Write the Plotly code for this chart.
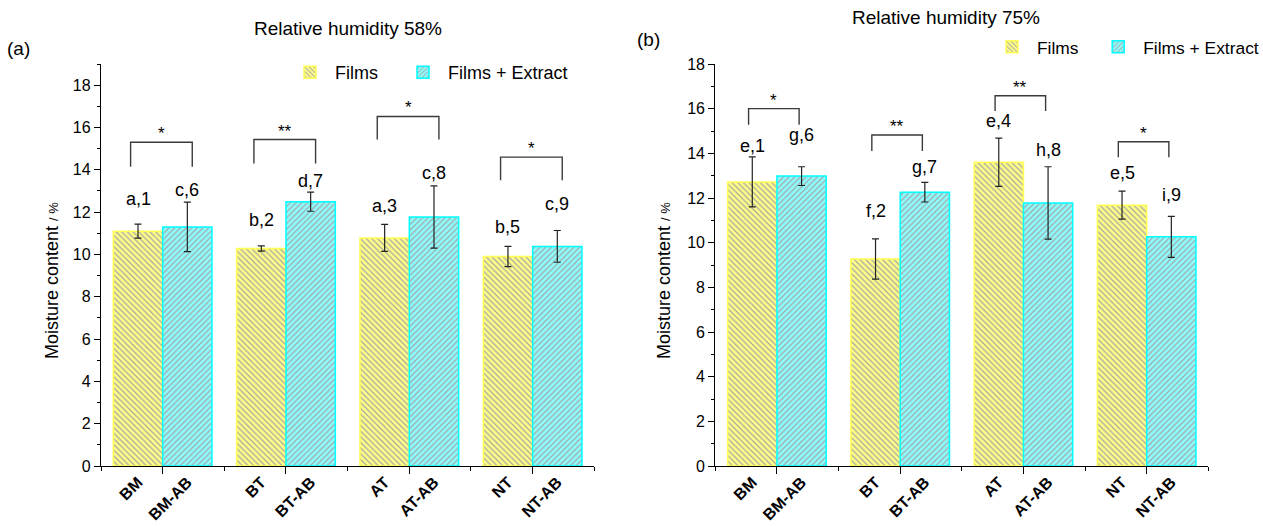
import plotly.graph_objects as go

# ---------------- data ----------------
samples = ["BM", "BT", "AT", "NT"]
tick_labels = ["BM", "BM-AB", "BT", "BT-AB", "AT", "AT-AB", "NT", "NT-AB"]

films_58 = [11.10, 10.28, 10.78, 9.90]
films_58_err = [0.33, 0.12, 0.64, 0.48]
extract_58 = [11.30, 12.49, 11.77, 10.38]
extract_58_err = [1.17, 0.45, 1.47, 0.75]

films_75 = [12.72, 9.27, 13.60, 11.68]
films_75_err = [1.12, 0.90, 1.08, 0.63]
extract_75 = [12.98, 12.26, 11.78, 10.26]
extract_75_err = [0.42, 0.44, 1.62, 0.92]

letters_58_films = ["a,1", "b,2", "a,3", "b,5"]
letters_58_extract = ["c,6", "d,7", "c,8", "c,9"]
letters_75_films = ["e,1", "f,2", "e,4", "e,5"]
letters_75_extract = ["g,6", "g,7", "h,8", "i,9"]

label_y_58_films = [12.60, 11.65, 12.30, 11.30]
label_y_58_extract = [13.05, 13.45, 13.85, 12.40]
label_y_75_films = [14.35, 11.40, 15.45, 13.10]
label_y_75_extract = [14.80, 13.40, 14.15, 12.15]

stars_58 = ["*", "**", "*", "*"]
bracket_top_58 = [15.30, 15.43, 16.52, 14.60]
bracket_foot_58 = [14.14, 14.30, 15.43, 13.50]
stars_75 = ["*", "**", "**", "*"]
bracket_top_75 = [16.00, 14.82, 16.58, 14.52]
bracket_foot_75 = [15.28, 14.11, 15.90, 13.83]

series_names = ["Films", "Films + Extract"]

# ---------------- styling ----------------
FONT = "Liberation Sans, Arial, sans-serif"
W, H = 1263, 526
YEL_BG, YEL_LINE = "#ffff88", "#ffff55"
CYA_BG, CYA_LINE = "#8cffff", "#00ffff"
HATCH = "#a4a4a4"
BAR_W = 0.4
NBSP = "\u00a0"

def px_x(p):
    return p / W

def px_y(p):
    return 1 - p / H

y_dom = [px_y(466), px_y(64)]
left_dom = [px_x(101), px_x(594.3)]
right_dom = [px_x(715.3), px_x(1208.3)]

n = len(samples)
pos_f = [i + 0.5 - BAR_W / 2 for i in range(n)]
pos_e = [i + 0.5 + BAR_W / 2 for i in range(n)]
label_pos = []
for a, b in zip(pos_f, pos_e):
    label_pos += [a, b]

fig = go.Figure()

def add_bars(xa, ya, legend, pad, f_vals, f_err, e_vals, e_err):
    fig.add_trace(go.Bar(
        x=pos_f, y=f_vals, width=BAR_W, name=series_names[0] + NBSP * pad,
        xaxis=xa, yaxis=ya, legend=legend,
        marker=dict(color=YEL_BG, line=dict(color=YEL_LINE, width=1.5),
                    pattern=dict(shape="\\", fgcolor=HATCH, bgcolor=YEL_BG, size=4,
                                 solidity=0.3, fillmode="replace")),
        error_y=dict(type="data", array=f_err, color="#222", thickness=1.2, width=3.5),
    ))
    fig.add_trace(go.Bar(
        x=pos_e, y=e_vals, width=BAR_W, name=series_names[1],
        xaxis=xa, yaxis=ya, legend=legend,
        marker=dict(color=CYA_BG, line=dict(color=CYA_LINE, width=1.5),
                    pattern=dict(shape="/", fgcolor=HATCH, bgcolor=CYA_BG, size=4,
                                 solidity=0.3, fillmode="replace")),
        error_y=dict(type="data", array=e_err, color="#222", thickness=1.2, width=3.5),
    ))

add_bars("x", "y", "legend", 3, films_58, films_58_err, extract_58, extract_58_err)
add_bars("x2", "y2", "legend2", 2, films_75, films_75_err, extract_75, extract_75_err)

# invisible traces for label axes
fig.add_trace(go.Scatter(x=label_pos, y=[0] * len(label_pos), xaxis="x3", yaxis="y",
                         mode="markers", marker=dict(opacity=0), showlegend=False, hoverinfo="skip"))
fig.add_trace(go.Scatter(x=label_pos, y=[0] * len(label_pos), xaxis="x4", yaxis="y2",
                         mode="markers", marker=dict(opacity=0), showlegend=False, hoverinfo="skip"))

axis_common = dict(showline=True, linecolor="black", linewidth=1.3, showgrid=False, zeroline=False,
                   tickcolor="black", tickwidth=1.2, automargin=False)

xmain = dict(axis_common, range=[0, n], ticks="outside", ticklen=7,
             tickvals=[i + 0.5 for i in range(n)], showticklabels=False,
             minor=dict(tickvals=list(range(n + 1)), ticks="outside", ticklen=4,
                        tickcolor="black", tickwidth=1.2))
xlabels = dict(range=[0, n], tickvals=label_pos, ticktext=tick_labels, tickangle=-45,
               ticks="", showline=False, showgrid=False, zeroline=False, automargin=False,
               tickfont=dict(family=FONT, size=16, color="black", weight="bold"),
               ticklabelstandoff=3)
ycommon = dict(axis_common, ticks="outside", ticklen=6, tick0=0, dtick=2,
               tickfont=dict(family=FONT, size=16, color="black"),
               minor=dict(dtick=1, tick0=0, ticks="outside", ticklen=3, tickcolor="black", tickwidth=1.2))

fig.update_layout(
    width=W, height=H,
    margin=dict(l=0, r=0, t=0, b=0, autoexpand=False),
    paper_bgcolor="white", plot_bgcolor="white",
    font=dict(family=FONT, color="black"),
    barmode="overlay",
    xaxis=dict(xmain, domain=left_dom, anchor="y"),
    xaxis2=dict(xmain, domain=right_dom, anchor="y2"),
    xaxis3=dict(xlabels, overlaying="x", anchor="y", side="bottom"),
    xaxis4=dict(xlabels, overlaying="x2", anchor="y2", side="bottom"),
    yaxis=dict(ycommon, domain=y_dom, range=[0, 19], anchor="x"),
    yaxis2=dict(ycommon, domain=y_dom, range=[0, 18], anchor="x2"),
    legend=dict(orientation="h", x=px_x(285), y=px_y(54), xanchor="left", yanchor="top",
                font=dict(family=FONT, size=18), bgcolor="rgba(0,0,0,0)", itemwidth=40),
    legend2=dict(orientation="h", x=px_x(987), y=px_y(29), xanchor="left", yanchor="top",
                 font=dict(family=FONT, size=17.4), bgcolor="rgba(0,0,0,0)", itemwidth=40),
    showlegend=True,
)

annotations = []
shapes = []

def panel_marks(xref, yref, lf, le, ylf, yle, stars, btop, bfoot, b_lo, b_hi):
    for i in range(n):
        annotations.append(dict(x=pos_f[i], y=ylf[i], xref=xref, yref=yref, text=lf[i],
                                showarrow=False, font=dict(size=18, family=FONT)))
        annotations.append(dict(x=pos_e[i], y=yle[i], xref=xref, yref=yref, text=le[i],
                                showarrow=False, font=dict(size=18, family=FONT)))
        x0, x1 = i + b_lo, i + b_hi
        shapes.append(dict(type="path", xref=xref, yref=yref,
                           path=f"M {x0},{bfoot[i]} L {x0},{btop[i]} L {x1},{btop[i]} L {x1},{bfoot[i]}",
                           line=dict(color="#3a3a3a", width=1.4)))
        annotations.append(dict(x=(x0 + x1) / 2, y=btop[i], xref=xref, yref=yref, text=stars[i],
                                showarrow=False, yanchor="bottom", yshift=-3,
                                font=dict(size=17, family=FONT)))

panel_marks("x", "y", letters_58_films, letters_58_extract, label_y_58_films, label_y_58_extract,
            stars_58, bracket_top_58, bracket_foot_58, 0.24, 0.74)
panel_marks("x2", "y2", letters_75_films, letters_75_extract, label_y_75_films, label_y_75_extract,
            stars_75, bracket_top_75, bracket_foot_75, 0.27, 0.68)

paper_text = [
    ("Relative humidity 58%", 348, 28, 19),
    ("(a)", 18, 48, 19),
    ("Relative humidity 75%", 946, 18, 19),
    ("(b)", 648, 40, 19),
]
for t, xp, yp, s in paper_text:
    annotations.append(dict(x=px_x(xp), y=px_y(yp), xref="paper", yref="paper", text=t,
                            xanchor="center", yanchor="middle",
                            showarrow=False, font=dict(size=s, family=FONT)))
ytitle = "Moisture content <span style='font-size:13px'>/ %</span>"
for xp in (52, 664):
    annotations.append(dict(x=px_x(xp), y=px_y(281), xref="paper", yref="paper",
                            text=ytitle, textangle=-90, showarrow=False,
                            xanchor="center", yanchor="middle",
                            font=dict(size=18, family=FONT)))

fig.update_layout(annotations=annotations, shapes=shapes)
fig.write_html("out.html")
